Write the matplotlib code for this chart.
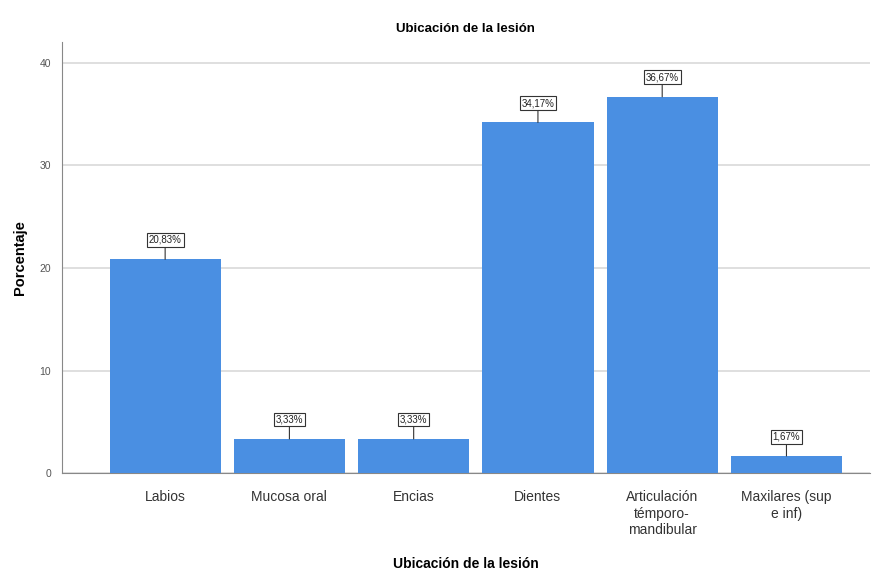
import numpy as np
import matplotlib
matplotlib.use("Agg")
import matplotlib.pyplot as plt

categorias = ["Labios", "Mucosa oral", "Encias", "Dientes",
              "Articulación\ntémporo-\nmandibular", "Maxilares (sup\ne inf)"]
porcentajes = [20.83, 3.33, 3.33, 34.17, 36.67, 1.67]
etiquetas = ["20,83%", "3,33%", "3,33%", "34,17%", "36,67%", "1,67%"]
yticks = [0, 10, 20, 30, 40]

plt.rcParams['font.family'] = ['Liberation Sans', 'DejaVu Sans']

fig = plt.figure(figsize=(8.77, 5.77), dpi=100)
ax = fig.add_axes([0.0707, 0.180, 0.921, 0.747])

x = np.arange(len(categorias))
ax.bar(x, porcentajes, width=0.895, color='#4A8FE2', zorder=3)

for xi, v, t in zip(x, porcentajes, etiquetas):
    ax.annotate(t, xy=(xi, v), xytext=(0, 14), textcoords='offset points',
                ha='center', va='center', fontsize=7, color='#222222',
                bbox=dict(boxstyle='square,pad=0.2', fc='white', ec='#333333', lw=0.8),
                arrowprops=dict(arrowstyle='-', color='#333333', lw=0.8,
                                shrinkA=0, shrinkB=0),
                zorder=5)

ax.set_xlim(-0.83, 5.67)
ax.set_ylim(0, 42)
ax.set_yticks(yticks)
ax.set_xticks(x)
ax.set_xticklabels(categorias, fontsize=10, color='#333333', linespacing=1.25)
ax.tick_params(axis='x', length=0, pad=12)
ax.tick_params(axis='y', labelsize=7.5, colors='#555555', length=0, pad=8)
ax.grid(axis='y', color='#D9D9D9', lw=1.2, zorder=0)

for s in ['top', 'right']:
    ax.spines[s].set_visible(False)
ax.spines['left'].set_color('#888888')
ax.spines['bottom'].set_color('#888888')

ax.set_title('Ubicación de la lesión', fontsize=9.5, fontweight='bold', pad=7)
ax.set_xlabel('Ubicación de la lesión', fontsize=10, fontweight='bold', labelpad=14)
ax.set_ylabel('Porcentaje', fontsize=10.5, fontweight='bold', labelpad=9)

plt.savefig("out.png", dpi=100)
